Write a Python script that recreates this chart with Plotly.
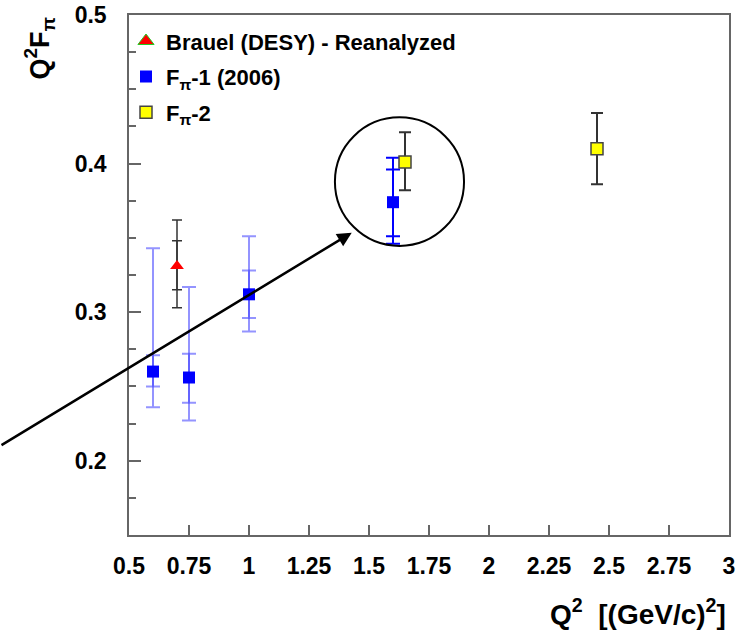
import plotly.graph_objects as go

# ---------------- data ----------------
brauel_x = [0.70]
brauel_y = [0.331]
brauel_stat_up = [0.017]
brauel_stat_dn = [0.016]
brauel_tot_up = [0.031]
brauel_tot_dn = [0.028]

fpi1_x = [0.60, 0.75, 1.00, 1.60]
fpi1_y = [0.260, 0.256, 0.312, 0.374]
fpi1_stat_up = [0.011, 0.016, 0.016, 0.022]
fpi1_stat_dn = [0.010, 0.017, 0.016, 0.023]
fpi1_tot_up = [0.083, 0.061, 0.039, 0.030]
fpi1_tot_dn = [0.024, 0.029, 0.025, 0.028]

fpi2_x = [1.65, 2.45]
fpi2_y = [0.401, 0.410]
fpi2_err_up = [0.020, 0.024]
fpi2_err_dn = [0.019, 0.024]

x_ticks = [0.5, 0.75, 1, 1.25, 1.5, 1.75, 2, 2.25, 2.5, 2.75, 3]
x_tick_labels = ["0.5", "0.75", "1", "1.25", "1.5", "1.75", "2", "2.25", "2.5", "2.75", "3"]
y_ticks = [0.2, 0.3, 0.4, 0.5]
y_tick_labels = ["0.2", "0.3", "0.4", "0.5"]

# highlight circle and arrow (data coordinates)
circle_box = [1.358, 0.3446, 1.896, 0.4311]
arrow_head = [1.428, 0.3535]
arrow_tail = [-0.0375, 0.2099]

FONT = "Liberation Sans"
BLUE_LIGHT = "rgba(60,60,255,0.55)"
BLUE = "rgb(0,0,255)"

fig = go.Figure()

# Brauel total errors
fig.add_trace(go.Scatter(
    x=brauel_x, y=brauel_y, mode="markers", showlegend=False,
    marker=dict(size=1, color="rgba(0,0,0,0)"),
    error_y=dict(type="data", symmetric=False, array=brauel_tot_up, arrayminus=brauel_tot_dn,
                 color="#333333", thickness=1.5, width=5)))
fig.add_trace(go.Scatter(
    x=brauel_x, y=brauel_y, mode="markers", showlegend=False,
    marker=dict(size=1, color="rgba(0,0,0,0)"),
    error_y=dict(type="data", symmetric=False, array=brauel_stat_up, arrayminus=brauel_stat_dn,
                 color="#333333", thickness=1.5, width=5)))

# Fpi-1 error bars (first three points lighter, last point solid)
light = slice(0, 3)
solid = slice(3, 4)
for sl, col in ((light, BLUE_LIGHT), (solid, BLUE)):
    for up, dn in ((fpi1_tot_up, fpi1_tot_dn), (fpi1_stat_up, fpi1_stat_dn)):
        fig.add_trace(go.Scatter(
            x=fpi1_x[sl], y=fpi1_y[sl], mode="markers", showlegend=False,
            marker=dict(size=1, color="rgba(0,0,0,0)"),
            error_y=dict(type="data", symmetric=False, array=up[sl], arrayminus=dn[sl],
                         color=col, thickness=2, width=7)))

# Fpi-2 error bars
fig.add_trace(go.Scatter(
    x=fpi2_x, y=fpi2_y, mode="markers", showlegend=False,
    marker=dict(size=1, color="rgba(0,0,0,0)"),
    error_y=dict(type="data", symmetric=False, array=fpi2_err_up, arrayminus=fpi2_err_dn,
                 color="#333333", thickness=2, width=6)))

# markers
fig.add_trace(go.Scatter(
    x=brauel_x, y=brauel_y, mode="markers", name="Brauel (DESY) - Reanalyzed",
    legendgroup="a", showlegend=False,
    marker=dict(symbol="triangle-up", size=12, color="red", line=dict(width=0))))
fig.add_trace(go.Scatter(
    x=[None], y=[None], mode="markers", name="<b>Brauel (DESY) - Reanalyzed</b>",
    legendgroup="a",
    marker=dict(symbol="triangle-up", size=14, color="red", line=dict(width=1, color="#22cc22"))))
fig.add_trace(go.Scatter(
    x=fpi1_x, y=fpi1_y, mode="markers", name="<b>F<sub>π</sub>-1 (2006)</b>",
    legendgroup="b",
    marker=dict(symbol="square", size=12, color=BLUE, line=dict(width=0))))
fig.add_trace(go.Scatter(
    x=fpi2_x, y=fpi2_y, mode="markers", name="<b>F<sub>π</sub>-2</b>",
    legendgroup="c",
    marker=dict(symbol="square", size=12, color="yellow", line=dict(width=1.5, color="#444444"))))

fig.add_shape(type="circle", xref="x", yref="y",
              x0=circle_box[0], y0=circle_box[1], x1=circle_box[2], y1=circle_box[3],
              line=dict(color="black", width=2))

fig.add_annotation(x=arrow_head[0], y=arrow_head[1], ax=arrow_tail[0], ay=arrow_tail[1],
                   xref="x", yref="y", axref="x", ayref="y", text="", showarrow=True,
                   arrowhead=2, arrowsize=1.15, arrowwidth=2.5, arrowcolor="black",
                   standoff=0, startstandoff=0)

# axis titles
fig.add_annotation(text="<b>Q<sup>2</sup>F<sub>π</sub></b>", xref="paper", yref="paper",
                   x=-0.15, y=1.0, xanchor="center", yanchor="top", textangle=-90,
                   showarrow=False, font=dict(family=FONT, size=27, color="black"))
fig.add_annotation(text="<b>Q<sup>2</sup>  [(GeV/c)<sup>2</sup>]</b>", xref="paper", yref="paper",
                   x=0.998, y=-0.11, xanchor="right", yanchor="top",
                   showarrow=False, font=dict(family=FONT, size=28, color="black"))

axis_common = dict(showline=True, linecolor="#666666", linewidth=1.5, mirror=True,
                   showgrid=False, zeroline=False, ticks="inside", tickcolor="#666666",
                   tickwidth=1.5, automargin=False,
                   tickfont=dict(family=FONT, size=23, color="black", weight="bold"))

fig.update_xaxes(range=[0.5, 3.0], tickvals=x_ticks, ticktext=x_tick_labels,
                 ticklen=10, ticklabelstandoff=10, **axis_common)
fig.update_yaxes(range=[0.15, 0.5], tickvals=y_ticks, ticktext=y_tick_labels,
                 ticklen=12, ticklabelstandoff=16,
                 minor=dict(dtick=0.025, tick0=0.0, ticks="inside", ticklen=7,
                            tickcolor="#666666", tickwidth=1.5, showgrid=False),
                 **axis_common)

fig.update_layout(
    width=743, height=633,
    margin=dict(l=129, r=14, t=15, b=98, autoexpand=False),
    plot_bgcolor="white", paper_bgcolor="white",
    legend=dict(x=-0.005, y=0.99, xanchor="left", yanchor="top",
                bgcolor="rgba(0,0,0,0)", borderwidth=0,
                traceorder="grouped", tracegroupgap=4, itemwidth=30,
                font=dict(family=FONT, size=22, color="black")),
)

fig.write_html("out.html")
